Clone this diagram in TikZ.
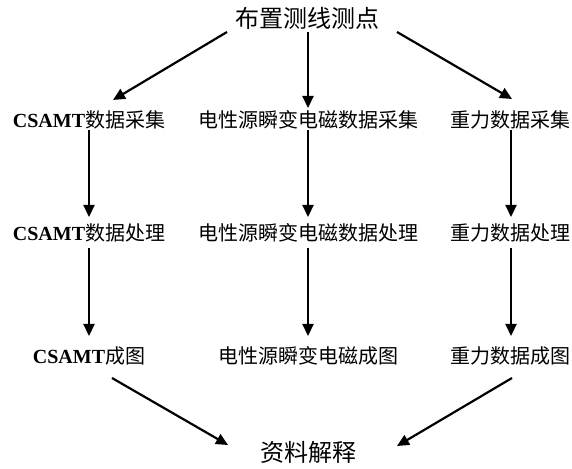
\documentclass[tikz,border=0pt]{standalone}
\usepackage{fontspec}
\setmainfont{Liberation Serif}
\newfontfamily\cjk{Noto Sans CJK SC}
\usetikzlibrary{arrows.meta}

\begin{document}
\begin{tikzpicture}[
  x=1pt,y=1pt,
  step box/.style={inner sep=0pt,font=\fontsize{20}{22}\selectfont\cjk},
  end box/.style={inner sep=0pt,font=\fontsize{24}{26}\selectfont\cjk},
  arr/.style={-{Triangle[length=12pt,width=11pt]},line width=2.2pt,black},
]
\useasboundingbox (0,0) rectangle (572,468);

\node[end box] (plan) at (307.5,450) {布置测线测点};

% three columns
\node[step box] (csamt1) at (89,348) {{\rmfamily\bfseries CSAMT}数据采集};
\node[step box] (tem1)   at (308,348) {电性源瞬变电磁数据采集};
\node[step box] (grav1)  at (510,348) {重力数据采集};

\node[step box] (csamt2) at (89,235) {{\rmfamily\bfseries CSAMT}数据处理};
\node[step box] (tem2)   at (308,235) {电性源瞬变电磁数据处理};
\node[step box] (grav2)  at (510,235) {重力数据处理};

\node[step box] (csamt3) at (89,112) {{\rmfamily\bfseries CSAMT}成图};
\node[step box] (tem3)   at (308,112) {电性源瞬变电磁成图};
\node[step box] (grav3)  at (510,112) {重力数据成图};

\node[end box] (interp) at (308.5,16) {资料解释};

\draw[arr] ([shift={(-80.5,-14)}]plan.center) -- ([shift={(24,20)}]csamt1.center);
\draw[arr] ([shift={(0.5,-14)}]plan.center) -- ([shift={(0,12)}]tem1.center);
\draw[arr] ([shift={(89.5,-14)}]plan.center) -- ([shift={(2,21)}]grav1.center);

\foreach \col/\dx in {csamt/0,tem/0,grav/1}{
  \draw[arr] ([shift={(\dx,-10)}]\col1.center) -- ([shift={(\dx,16)}]\col2.center);
  \draw[arr] ([shift={(\dx,-15)}]\col2.center) -- ([shift={(\dx,20)}]\col3.center);
}

\draw[arr] ([shift={(23,-22)}]csamt3.center) -- ([shift={(-80.5,7)}]interp.center);
\draw[arr] ([shift={(2,-22)}]grav3.center) -- ([shift={(88.5,6)}]interp.center);
\end{tikzpicture}
\end{document}
